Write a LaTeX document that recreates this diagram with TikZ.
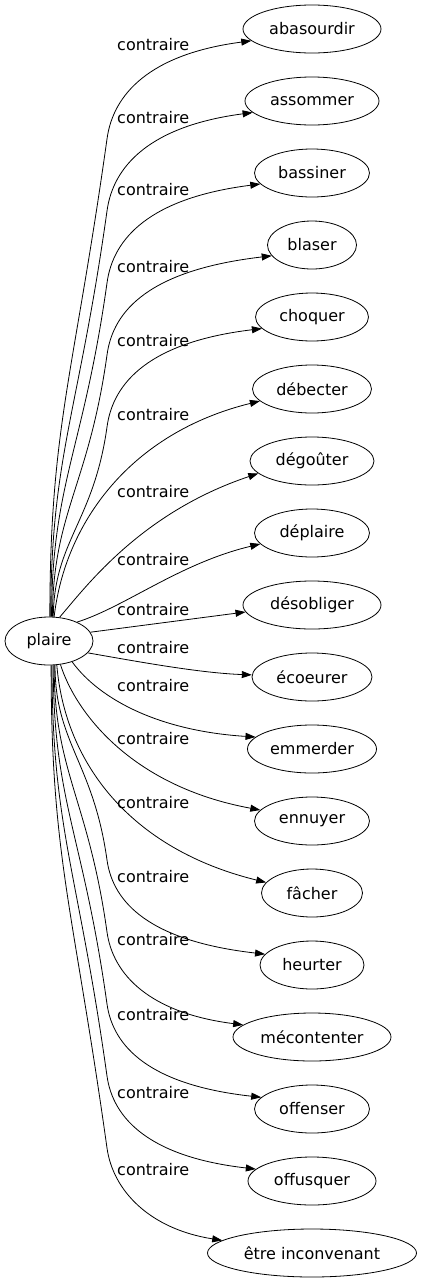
\documentclass[tikz,border=0pt]{standalone}
\usepackage{fontspec}
\setmainfont{DejaVu Sans}
\usetikzlibrary{shapes.geometric,arrows.meta}
\tikzset{
  ell/.style={draw, ellipse, line width=0.8pt, inner sep=0pt, minimum height=48pt, font=\fontsize{16}{19}\selectfont},
  lab/.style={anchor=west, inner sep=0pt, font=\fontsize{16}{19}\selectfont},
  edge/.style={line width=0.8pt, -{Triangle[length=10pt,width=7pt]}}
}
\begin{document}
\begin{tikzpicture}[x=1pt,y=-1pt]
\useasboundingbox (0,0) rectangle (422,1283);
\node[ell, minimum width=88pt] (p) at (49,641) {plaire};
\node[ell, minimum width=138pt] (n0) at (312,29) {abasourdir};
\node[ell, minimum width=134pt] (n1) at (312,101) {assommer};
\node[ell, minimum width=115pt] (n2) at (312,173) {bassiner};
\node[ell, minimum width=89pt] (n3) at (312,245) {blaser};
\node[ell, minimum width=113pt] (n4) at (312,317) {choquer};
\node[ell, minimum width=119pt] (n5) at (312,389) {débecter};
\node[ell, minimum width=124pt] (n6) at (312,461) {dégoûter};
\node[ell, minimum width=115pt] (n7) at (312,533) {déplaire};
\node[ell, minimum width=138pt] (n8) at (312,605) {désobliger};
\node[ell, minimum width=120pt] (n9) at (312,677) {écoeurer};
\node[ell, minimum width=129pt] (n10) at (312,749) {emmerder};
\node[ell, minimum width=115pt] (n11) at (312,821) {ennuyer};
\node[ell, minimum width=101pt] (n12) at (312,893) {fâcher};
\node[ell, minimum width=104pt] (n13) at (312,965) {heurter};
\node[ell, minimum width=158pt] (n14) at (312,1037) {mécontenter};
\node[ell, minimum width=115pt] (n15) at (312,1109) {offenser};
\node[ell, minimum width=128pt] (n16) at (312,1181) {offusquer};
\node[ell, minimum width=209pt] (n17) at (312,1253) {être inconvenant};

\node[lab] (l0) at (117,45) {contraire};
\node[lab] (l1) at (117,118) {contraire};
\node[lab] (l2) at (117,190) {contraire};
\node[lab] (l3) at (117,267) {contraire};
\node[lab] (l4) at (117,341) {contraire};
\node[lab] (l5) at (117,415) {contraire};
\node[lab] (l6) at (117,492) {contraire};
\node[lab] (l7) at (117,560) {contraire};
\node[lab] (l8) at (117,610) {contraire};
\node[lab] (l9) at (117,648) {contraire};
\node[lab] (l10) at (117,686) {contraire};
\node[lab] (l11) at (117,739) {contraire};
\node[lab] (l12) at (117,803) {contraire};
\node[lab] (l13) at (117,877) {contraire};
\node[lab] (l14) at (117,940) {contraire};
\node[lab] (l15) at (117,1015) {contraire};
\node[lab] (l16) at (117,1093) {contraire};
\node[lab] (l17) at (117,1170) {contraire};

\draw[edge] (p.88) .. controls (50,426) and (73.5,378) .. (107,139) .. controls (113,94) and (150,54) .. (n0.191);
\draw[edge] (p.86) .. controls (51,455) and (78.6,414) .. (107,211) .. controls (113,166) and (150,126) .. (n1.191);
\draw[edge] (p.84) .. controls (52,483) and (83.6,450) .. (107,283) .. controls (113,238) and (150,198) .. (n2.192);
\draw[edge] (p.82) .. controls (53,512) and (88.7,486) .. (107,355) .. controls (113,310) and (150,270) .. (n3.195);
\draw[edge] (p.80) .. controls (54,541) and (93.7,522) .. (107,427) .. controls (113,382) and (150,342) .. (n4.193);
\draw[edge] (p.78) .. controls (65,523) and (130,433) .. (n5.193);
\draw[edge] (p.66) .. controls (85,588) and (140,513) .. (n6.193);
\draw[edge] (p.34) .. controls (125,607) and (180,563) .. (n7.192);
\draw[edge] (p.12) -- (n8.186);
\draw[edge] (p.-17) .. controls (140,662) and (200,673) .. (n9.178);
\draw[edge] (p.-42) .. controls (100,700) and (160,731) .. (n10.168);
\draw[edge] (p.-64) .. controls (75,711) and (130,786) .. (n11.168);
\draw[edge] (p.-72) .. controls (65,763) and (130,849) .. (n12.167);
\draw[edge] (p.-76) .. controls (55,743) and (93.4,762.5) .. (107,860) .. controls (113,903) and (150,941) .. (n13.167);
\draw[edge] (p.-78) .. controls (54,772) and (88.3,798.5) .. (107,932) .. controls (113,975) and (150,1013) .. (n14.170);
\draw[edge] (p.-80.5) .. controls (53,801) and (83.3,834.5) .. (107,1004) .. controls (113,1047) and (150,1085) .. (n15.167);
\draw[edge] (p.-83) .. controls (52,829) and (78.2,870.5) .. (107,1076) .. controls (113,1119) and (150,1157) .. (n16.168);
\draw[edge] (p.-85) .. controls (51,858) and (73.2,906.5) .. (107,1148) .. controls (113,1191) and (150,1229) .. (n17.172);
\end{tikzpicture}
\end{document}
